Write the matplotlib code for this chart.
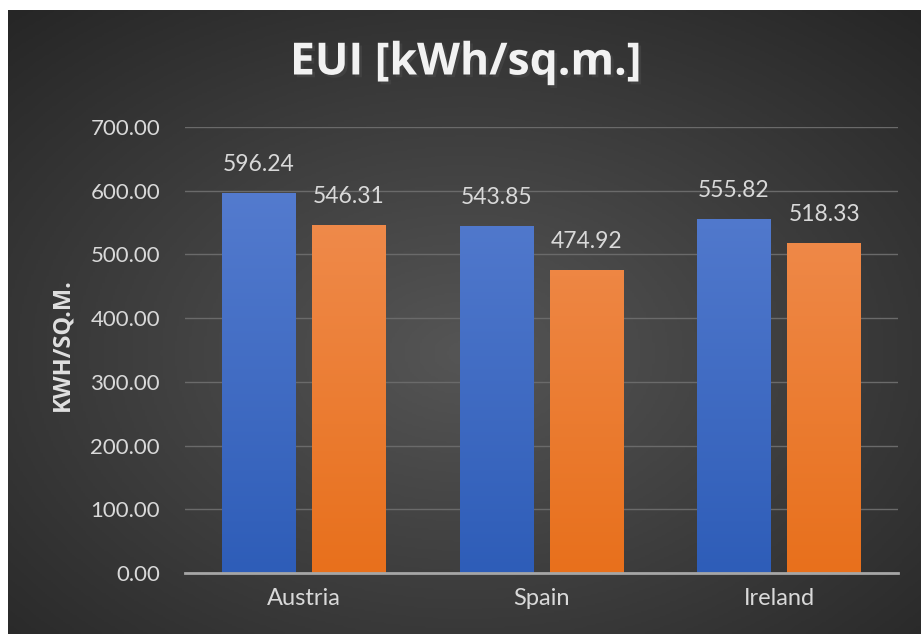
import numpy as np
import matplotlib.pyplot as plt
import matplotlib.patheffects as pe
from matplotlib.colors import LinearSegmentedColormap

countries = ['Austria', 'Spain', 'Ireland']
series_a = [596.24, 543.85, 555.82]
series_b = [546.31, 474.92, 518.33]
y_ticks = [0, 100, 200, 300, 400, 500, 600, 700]

plt.rcParams['font.family'] = ['Lato', 'DejaVu Sans']

W, H = 921, 634
fig = plt.figure(figsize=(W / 100, H / 100), dpi=100, facecolor='white')

# dark radial background (white strip on left and top)
bg = fig.add_axes([8 / W, 0, 1 - 8 / W, 1 - 10 / H], zorder=0)
yy, xx = np.mgrid[0:1:300j, 0:1:400j]
r = np.sqrt(((xx - 0.5) / 0.75) ** 2 + ((yy - 0.45) / 0.75) ** 2)
shade = np.clip(1 - r, 0, 1)
bgcmap = LinearSegmentedColormap.from_list('bg', ['#262626', '#555555'])
bg.imshow(shade, cmap=bgcmap, aspect='auto', extent=[0, 1, 0, 1], origin='lower')
bg.set_axis_off()

ax = fig.add_axes([185 / W, 1 - 573 / H, (898 - 185) / W, (573 - 127) / H], zorder=1)
ax.patch.set_alpha(0)

x = np.arange(len(countries))
bw = 0.31
off = 0.19
bars_a = ax.bar(x - off, series_a, bw, color='none', zorder=3)
bars_b = ax.bar(x + off, series_b, bw, color='none', zorder=3)

grad = np.linspace(0, 1, 256).reshape(-1, 1)
cmap_a = LinearSegmentedColormap.from_list('a', ['#2E5DB8', '#5A80D2'])
cmap_b = LinearSegmentedColormap.from_list('b', ['#E8701C', '#F19157'])
for bars, cm in [(bars_a, cmap_a), (bars_b, cmap_b)]:
    for b in bars:
        x0 = b.get_x()
        im = ax.imshow(grad, cmap=cm, aspect='auto', origin='lower', zorder=3,
                       extent=[x0, x0 + b.get_width(), 0, 700])
        im.set_clip_path(b)

for bars, vals in [(bars_a, series_a), (bars_b, series_b)]:
    for b, v in zip(bars, vals):
        ax.text(b.get_x() + b.get_width() / 2, v + 45, f'{v:.2f}', ha='center',
                va='center', color='#d9d9d9', fontsize=16.5, zorder=4)

ax.set_xlim(-0.5, 2.5)
ax.set_ylim(0, 700)
ax.set_yticks(y_ticks)
ax.set_yticklabels([f'{t:.2f}' for t in y_ticks])
ax.set_xticks(x)
ax.set_xticklabels(countries)
ax.tick_params(length=0, colors='#d9d9d9')
ax.tick_params(axis='y', pad=18, labelsize=16)
ax.tick_params(axis='x', pad=11, labelsize=17)
ax.grid(axis='y', color='#6a6a6a', linewidth=1, zorder=1)
ax.set_axisbelow(True)
for s in ['top', 'right', 'left']:
    ax.spines[s].set_visible(False)
ax.spines['bottom'].set_color('#a6a6a6')
ax.spines['bottom'].set_linewidth(2)
ax.spines['bottom'].set_zorder(5)

fig.text(62 / W, 1 - 345 / H, 'KWH/SQ.M.', rotation=90, ha='center', va='center',
         color='#e0e0e0', fontsize=17, fontweight='bold', family=['Open Sans', 'DejaVu Sans'])

fig.text(466 / W, 1 - 63 / H, 'EUI [kWh/sq.m.]', ha='center', va='center',
         color='#f2f2f2', fontsize=32, fontweight='bold', family=['Open Sans', 'DejaVu Sans'],
         path_effects=[pe.withSimplePatchShadow(offset=(2, -2), alpha=0.6)])

fig.savefig('out.png', dpi=100, facecolor='white')
